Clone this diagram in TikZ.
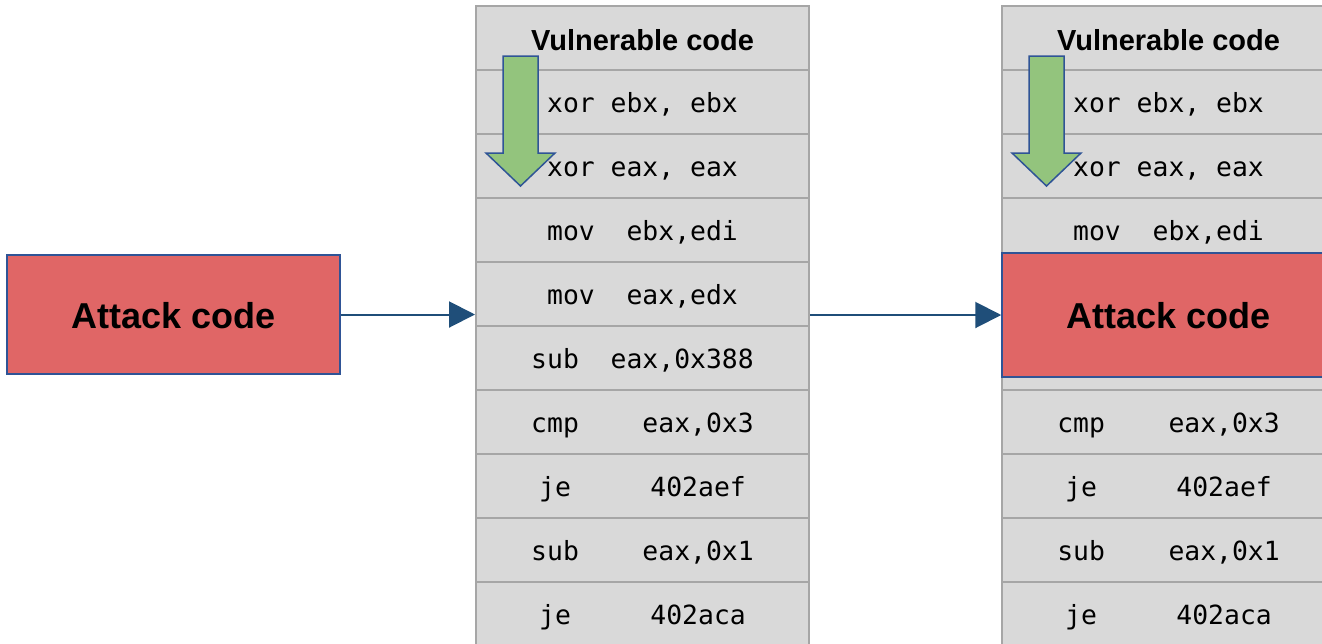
\documentclass[tikz,border=0pt]{standalone}
\usepackage{fontspec}
\setmainfont{Liberation Sans}
\setmonofont{DejaVu Sans Mono}
\usetikzlibrary{arrows.meta}

\definecolor{cellfill}{HTML}{D9D9D9}
\definecolor{cellline}{HTML}{A6A6A6}
\definecolor{attackred}{HTML}{E06666}
\definecolor{edgeblue}{HTML}{2F5496}
\definecolor{flowblue}{HTML}{1F4E79}
\definecolor{stepgreen}{HTML}{93C47D}

\tikzset{
  cell/.style={draw=cellline, fill=cellfill, line width=1pt, inner sep=0pt,
    minimum width=166.5pt, minimum height=32pt, text height=10pt, text depth=0pt,
    font=\fontsize{13.2}{16}\selectfont\ttfamily},
  header/.style={cell, text height=12pt, font=\fontsize{14.5}{17}\selectfont\bfseries},
  attack/.style={draw=edgeblue, fill=attackred, line width=0.75pt, inner sep=0pt,
    minimum width=166.5pt, text height=13.5pt, text depth=0pt,
    font=\fontsize{18}{21}\selectfont\bfseries},
  flow/.style={draw=flowblue, line width=1pt, -{Triangle[length=13pt,width=13pt]}},
  pointer/.style={draw=edgeblue, fill=stepgreen, line width=0.75pt, line join=miter}
}

\begin{document}
\begin{tikzpicture}[x=0.5pt,y=-0.5pt]
  \clip (0,0) rectangle (1322,643);

  % attack code on its own
  \node[attack, minimum height=59.5pt] (atk) at (173.5,314.5) {Attack code};

  % vulnerable code before
  \node[header] (m0) at (642.5,38) {Vulnerable code};
  \foreach \code [count=\i] in {{xor ebx, ebx},{xor eax, eax},{mov~~ebx,edi},{mov~~eax,edx},
      {sub~~eax,0x388},{cmp~~~~eax,0x3},{je~~~~~402aef},{sub~~~~eax,0x1},{je~~~~~402aca}}
    \node[cell] (m\i) at (642.5,{38+64*\i}) {\code};

  % vulnerable code after injection
  \node[header] (r0) at (1168.5,38) {Vulnerable code};
  \foreach \code [count=\i] in {{xor ebx, ebx},{xor eax, eax},{mov~~ebx,edi},{},
      {},{cmp~~~~eax,0x3},{je~~~~~402aef},{sub~~~~eax,0x1},{je~~~~~402aca}}
    \node[cell] (r\i) at (1168.5,{38+64*\i}) {\code};
  \node[attack, minimum height=62pt] (atk2) at (1168.5,315) {Attack code};

  % execution order
  \foreach \dx in {0,526}
    \draw[pointer] ({503+\dx},56) -- ({538+\dx},56) -- ({538+\dx},153) -- ({555+\dx},153)
      -- ({520.5+\dx},186) -- ({486+\dx},153) -- ({503+\dx},153) -- cycle;

  \draw[flow] (atk.east) -- (atk.east -| m0.west);
  \draw[flow] (atk2.west -| m0.east) -- (atk2.west);
\end{tikzpicture}
\end{document}
